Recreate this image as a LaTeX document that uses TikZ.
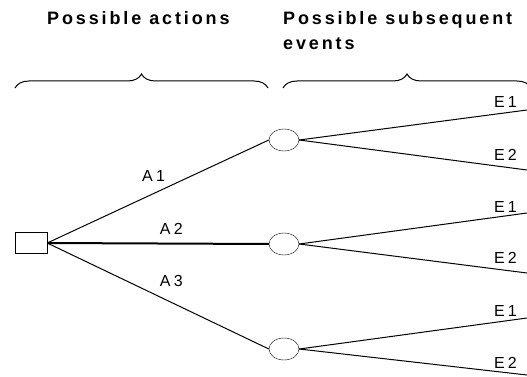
\documentclass[tikz,border=0pt]{standalone}
\usepackage{fontspec}
\setmainfont{Liberation Sans}
\newfontfamily\headfont[LetterSpace=16]{Liberation Sans}
\newfontfamily\lblfont[LetterSpace=20]{Liberation Sans}
\usetikzlibrary{shapes.geometric, positioning, decorations.pathreplacing}

\begin{document}
\begin{tikzpicture}[
    x=1pt, y=-1pt,
    decision/.style={draw, rectangle, minimum width=32pt, minimum height=21pt, inner sep=0pt},
    chance/.style={draw, ellipse, minimum width=30pt, minimum height=22pt, inner sep=0pt},
    head/.style={inner sep=0pt, align=left, font=\headfont\bfseries\fontsize{18}{25}\selectfont},
    lbl/.style={inner sep=0pt, font=\lblfont\fontsize{16}{18}\selectfont},
    branch/.style={line width=1pt},
    mainbranch/.style={line width=2pt},
    bracket/.style={line width=1pt, decorate, decoration={brace, amplitude=14pt}}
]
\useasboundingbox (0,0) rectangle (527,377);

% headings and braces
\node (hact) [head, anchor=base west] at (47,25) {Possible actions};
\node (hevt) [head, anchor=base west] at (283,50) {Possible subsequent\\events};
\draw [bracket] (15,88) -- (268,88);
\draw [bracket] (283,88) -- (531,88);

% decision node and chance nodes
\node (d) [decision] at (31,243) {};
\node (c1) [chance] at (284,140) {};
\node (c2) [chance] at (284,244) {};
\node (c3) [chance] at (284,349) {};

% outcome ends
\coordinate (e11) at (527,110);
\coordinate (e12) at (527,170);
\coordinate (e21) at (527,213);
\coordinate (e22) at (527,273);
\coordinate (e31) at (527,318);
\coordinate (e32) at (527,375);

% actions
\draw [branch] (d.east) -- (c1.west) node (a1) [lbl, pos=.48, above=12pt] {A1};
\draw [mainbranch] (d.east) -- (c2.west) node (a2) [lbl, pos=.56, above=8pt] {A2};
\draw [branch] (d.east) -- (c3.west) node (a3) [lbl, pos=.56, above=15pt] {A3};

% events
\foreach \i in {1,2,3} {
    \draw [branch] (c\i.east) -- (e\i1);
    \draw [branch] (c\i.east) -- (e\i2);
}
\node (l11) [lbl, anchor=east] at (517,102) {E1};
\node (l12) [lbl, anchor=east] at (517,155) {E2};
\node (l21) [lbl, anchor=east] at (517,207) {E1};
\node (l22) [lbl, anchor=east] at (517,258) {E2};
\node (l31) [lbl, anchor=east] at (517,311) {E1};
\node (l32) [lbl, anchor=east] at (517,363) {E2};
\end{tikzpicture}
\end{document}
